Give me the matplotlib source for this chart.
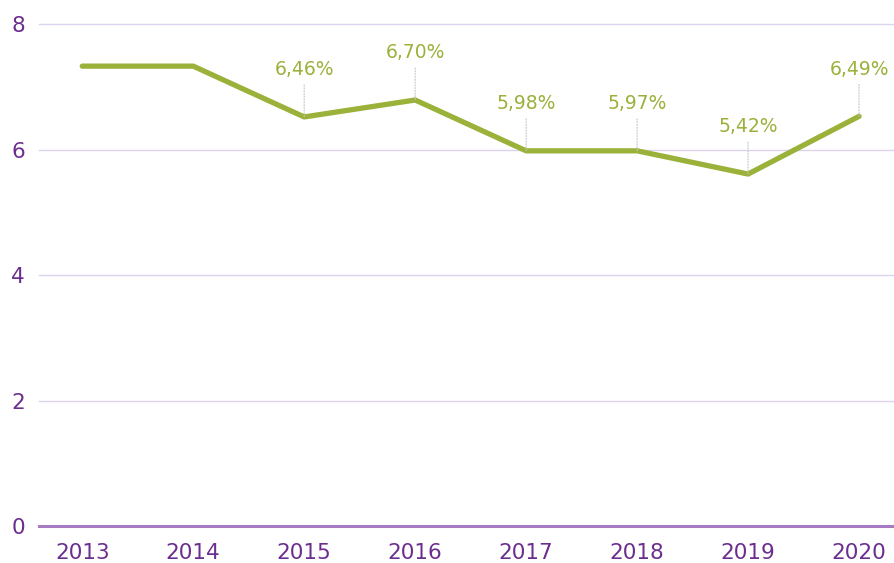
import matplotlib.pyplot as plt

# datos
years = [2013, 2014, 2015, 2016, 2017, 2018, 2019, 2020]
values = [7.33, 7.33, 6.52, 6.79, 5.98, 5.98, 5.61, 6.53]
labels = [None, None, "6,46%", "6,70%", "5,98%", "5,97%", "5,42%", "6,49%"]

green = "#9ab13a"
purple = "#6b2d8e"

fig = plt.figure(figsize=(8.94, 5.63), dpi=100)
ax = fig.add_axes([0.0436, 0.0657, 0.9564, 0.8915])

# rejilla horizontal
for y in [2, 4, 6, 8]:
    ax.axhline(y, color="#dcd3ee", lw=1.0, zorder=1, clip_on=False)
ax.axhline(0, color="#a67bc1", lw=2.2, zorder=2, clip_on=False)

ax.plot(years, values, color=green, lw=3.8, solid_capstyle="round",
        solid_joinstyle="round", zorder=3)

# etiquetas con linea punteada
for x, v, lab in zip(years, values, labels):
    if lab is None:
        continue
    ax.annotate(lab, xy=(x, v), xytext=(0, 34), textcoords="offset points",
                ha="center", va="center", color=green, fontsize=13.5)
    ax.annotate("", xy=(x, v), xytext=(0, 23), textcoords="offset points",
                arrowprops=dict(arrowstyle="-", color="#c4c4c4", lw=0.8,
                                linestyle=(0, (1, 1.5)), shrinkA=0, shrinkB=0))

ax.set_xlim(2012.61, 2020.315)
ax.set_ylim(0, 8)
ax.set_xticks(years)
ax.set_xticklabels([str(y) for y in years])
ax.set_yticks([0, 2, 4, 6, 8])
ax.tick_params(axis="both", length=0, colors=purple, labelsize=15.5)
ax.tick_params(axis="x", pad=12)
ax.tick_params(axis="y", pad=10)
for s in ax.spines.values():
    s.set_visible(False)

fig.savefig("out.png", dpi=100)
